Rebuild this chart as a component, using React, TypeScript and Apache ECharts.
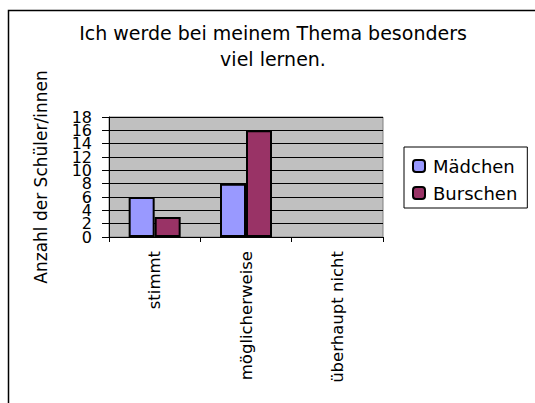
import React, { useEffect, useRef } from "react";
import * as echarts from "echarts";

const titleText = "Ich werde bei meinem Thema besonders\nviel lernen.";
const categories = ["stimmt", "möglicherweise", "überhaupt nicht"];
const seriesNames = ["Mädchen", "Burschen"];
const maedchen = [6, 8, 0];
const burschen = [3, 16, 0];
const yAxisName = "Anzahl der Schüler/innen";
const yMin = 0;
const yMax = 18;
const yInterval = 2;

const FONT = "DejaVu Sans";

const toData = (arr: number[]) =>
  arr.map((v) => (v === 0 ? { value: v, itemStyle: { borderWidth: 0 } } : v));

const labelBase = {
  margin: 17,
  fontFamily: FONT,
  fontSize: 16,
  color: "#000",
  showMinLabel: true,
  showMaxLabel: true,
  hideOverlap: false,
};

export default function App() {
  const ref = useRef<HTMLDivElement>(null);
  useEffect(() => {
    if (!ref.current) return;
    const chart = echarts.init(ref.current, null, { renderer: "svg" });
    chart.setOption({
      animation: false,
      backgroundColor: "#ffffff",
      textStyle: { fontFamily: FONT, color: "#000" },
      title: {
        text: titleText,
        left: 273,
        textAlign: "center",
        top: 20,
        padding: 0,
        textStyle: {
          fontFamily: FONT,
          fontSize: 19,
          fontWeight: "normal",
          color: "#000",
          lineHeight: 26,
        },
      },
      graphic: [
        {
          type: "rect",
          shape: { x: 8.5, y: 10.5, width: 700, height: 600 },
          style: { fill: "none", stroke: "#000", lineWidth: 1.5 },
          silent: true,
          z: -10,
        },
      ],
      legend: {
        orient: "vertical",
        left: 404,
        top: 147,
        data: seriesNames,
        itemWidth: 12,
        itemHeight: 12,
        itemGap: 9,
        padding: [10, 10, 6, 8],
        borderColor: "#000",
        borderWidth: 1,
        backgroundColor: "#fff",
        textStyle: { fontFamily: FONT, fontSize: 18, color: "#000", padding: [0, 0, 0, 3] },
      },
      grid: {
        left: 109,
        right: 152,
        top: 117,
        bottom: 166,
        show: true,
        backgroundColor: "#c0c0c0",
        borderColor: "#808080",
        borderWidth: 1,
        containLabel: false,
      },
      xAxis: {
        type: "category",
        data: categories,
        axisLine: { lineStyle: { color: "#000", width: 1 } },
        axisTick: { show: true, length: 5, lineStyle: { color: "#000" } },
        axisLabel: {
          rotate: 90,
          margin: 14,
          fontFamily: FONT,
          fontSize: 16.5,
          color: "#000",
          interval: 0,
        },
      },
      yAxis: [
        {
          type: "value",
          position: "left",
          min: yMin,
          max: yMax,
          interval: yInterval,
          name: yAxisName,
          nameLocation: "middle",
          nameGap: 60,
          nameTextStyle: { fontFamily: FONT, fontSize: 17, color: "#000" },
          axisLine: { show: true, lineStyle: { color: "#000", width: 1 } },
          axisTick: { show: true, length: 7, lineStyle: { color: "#000" } },
          axisLabel: {
            ...labelBase,
            formatter: (v: number) => (Math.round(v / yInterval) % 2 === 0 ? String(v) : ""),
          },
          splitLine: { show: true, lineStyle: { color: "#000", width: 1 } },
        },
        {
          type: "value",
          position: "left",
          offset: 0,
          min: yMin,
          max: yMax,
          interval: yInterval,
          axisLine: { show: false },
          axisTick: { show: false },
          axisLabel: {
            ...labelBase,
            formatter: (v: number) => (Math.round(v / yInterval) % 2 === 1 ? String(v) : ""),
          },
          splitLine: { show: false },
        },
      ],
      series: [
        {
          name: seriesNames[0],
          type: "bar",
          data: toData(maedchen),
          barWidth: 26,
          barGap: "0%",
          itemStyle: { color: "#9999ff", borderColor: "#000", borderWidth: 2 },
        },
        {
          name: seriesNames[1],
          type: "bar",
          data: toData(burschen),
          barWidth: 26,
          barGap: "0%",
          itemStyle: { color: "#993366", borderColor: "#000", borderWidth: 2 },
        },
      ],
    });
    return () => chart.dispose();
  }, []);
  return (
    <div
      ref={ref}
      style={{ position: "fixed", left: 0, top: 0, width: 535, height: 403, background: "#fff" }}
    />
  );
}
